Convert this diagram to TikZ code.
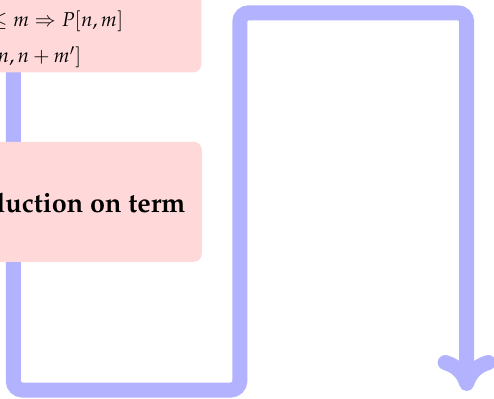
\documentclass[tikz,border=0pt]{standalone}
\usepackage[T1]{fontenc}
\usepackage{mathpazo}
\usetikzlibrary{arrows.meta,backgrounds}
\begin{document}
\begin{tikzpicture}[x=1pt,y=-1pt,
  flow/.style={draw=blue!30, line width=15pt, rounded corners=9pt,
    -{Computer Modern Rightarrow[round,length=36pt,width=58pt]}},
  card/.style={fill=red!15, rounded corners=8pt, inner sep=0pt, minimum width=300pt},
  txt/.style={inner sep=0pt}]
\useasboundingbox (0,0) rectangle (494,398);
\clip (0,0) rectangle (494,398);
% boxes
\node[card, minimum height=140pt, anchor=south east] (topbox) at (201.5,72.5) {};
\node[card, minimum height=120pt, anchor=south east] (midbox) at (202,262) {};
% texts
\node[txt, anchor=base east] (line1) at (123.5,27) {\fontsize{20}{24}\selectfont $n \le m \Rightarrow P[n,m]$};
\node[txt, anchor=base east] (line2) at (81.5,63) {\fontsize{20}{24}\selectfont $P[n,n+m']$};
\node[txt, anchor=base east] (midtext) at (185.5,212) {\fontsize{27}{32}\selectfont\bfseries Induction on term};
% flow line
\coordinate (start) at (13.3,50);
\coordinate (end) at (466.7,391);
\begin{pgfonlayer}{background}
\draw[flow] (start) -- (13.3,390) -- (239.8,390) -- (239.8,12.8) -- (466.7,12.8) -- (end);
\end{pgfonlayer}
\end{tikzpicture}
\end{document}
